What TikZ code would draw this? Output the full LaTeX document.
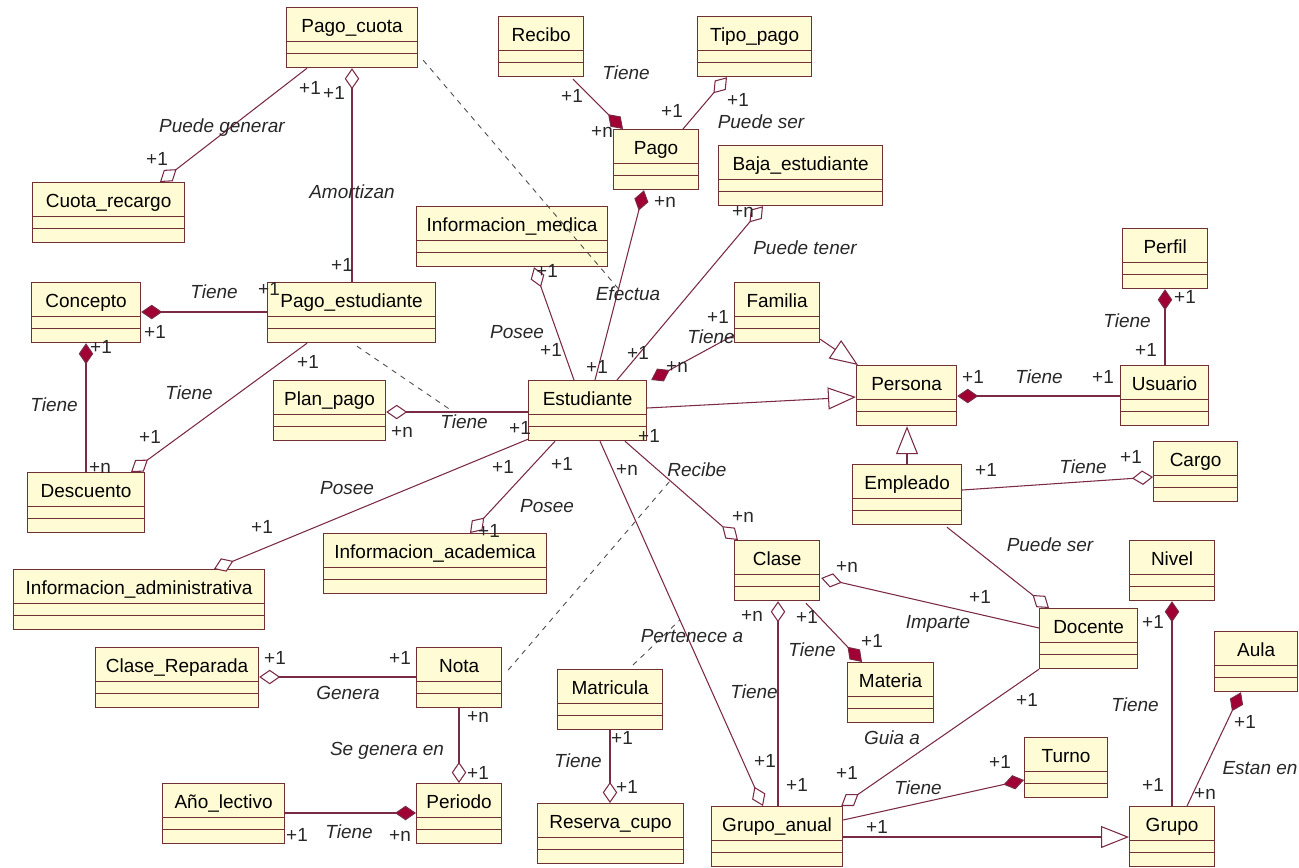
\documentclass[tikz,border=0pt]{standalone}
\usepackage{fontspec}
\setmainfont{Liberation Sans}
\usepackage{xcolor}
\usetikzlibrary{arrows.meta,calc}

\definecolor{clsfill}{RGB}{255,251,212}
\definecolor{clsline}{RGB}{112,48,52}
\definecolor{relline}{RGB}{122,42,68}
\definecolor{compfill}{RGB}{160,0,52}
\definecolor{lbltext}{RGB}{40,40,40}

\begin{document}
\begin{tikzpicture}[
    x=0.02cm, y=-0.02cm,
    every node/.style={font=\fontsize{10.8}{13}\selectfont},
    cls/.style={rectangle, draw=clsline, fill=clsfill, line width=0.7pt, anchor=north west,
      minimum height=1.2cm, inner sep=0pt, text height=0.35cm, text depth=0.55cm,
      path picture={
        \draw[clsline, line width=0.7pt]
          ($(path picture bounding box.north west)!0.567!(path picture bounding box.south west)$) --
          ($(path picture bounding box.north east)!0.567!(path picture bounding box.south east)$)
          ($(path picture bounding box.north west)!0.767!(path picture bounding box.south west)$) --
          ($(path picture bounding box.north east)!0.767!(path picture bounding box.south east)$);
      }},
    rel/.style={draw=relline, line width=0.6pt},
    comp/.style={rel, {Diamond[length=0.42cm, width=0.29cm, fill=compfill]}-},
    aggr/.style={rel, {Diamond[open, length=0.42cm, width=0.29cm, fill=white]}-},
    gen/.style={rel, -{Triangle[open, length=0.56cm, width=0.44cm, fill=white]}},
    assoclink/.style={draw=black!70, line width=0.5pt, dash pattern=on 3pt off 3pt},
    role/.style={font=\fontsize{10.8}{13}\selectfont\itshape, text=lbltext, inner sep=0pt, text height=1.5ex, text depth=0pt},
    mult/.style={text=lbltext, inner sep=0pt, text height=1.5ex, text depth=0pt}
]

\path[use as bounding box, fill=white] (0,0) rectangle (1299,867);

% Payment classes at the top
\node[cls, minimum width=2.62cm] (pagocuota) at (286,7) {Pago\_cuota};
\node[cls, minimum width=1.70cm] (recibo) at (498,16) {Recibo};
\node[cls, minimum width=2.28cm] (tipopago) at (697,16) {Tipo\_pago};
\node[cls, minimum width=1.70cm] (pago) at (613,129) {Pago};
\node[cls, minimum width=3.04cm] (cuotarecargo) at (32,182) {Cuota\_recargo};
\node[cls, minimum width=3.28cm] (bajaest) at (718,145) {Baja\_estudiante};
\node[cls, minimum width=3.82cm] (infomedica) at (416,206) {Informacion\_medica};
\node[cls, minimum width=1.70cm] (perfil) at (1122,228) {Perfil};

% Middle row: student and persons
\node[cls, minimum width=2.18cm] (concepto) at (31,282) {Concepto};
\node[cls, minimum width=3.36cm] (pagoest) at (267,282) {Pago\_estudiante};
\node[cls, minimum width=1.70cm] (familia) at (734,282) {Familia};
\node[cls, minimum width=2.00cm] (persona) at (856,365) {Persona};
\node[cls, minimum width=1.76cm] (usuario) at (1120,365) {Usuario};
\node[cls, minimum width=2.24cm] (planpago) at (273,380) {Plan\_pago};
\node[cls, minimum width=2.36cm] (estudiante) at (528,380) {Estudiante};
\node[cls, minimum width=1.68cm] (cargo) at (1153,441) {Cargo};
\node[cls, minimum width=2.18cm] (empleado) at (852,464) {Empleado};
\node[cls, minimum width=2.34cm] (descuento) at (27,472) {Descuento};
\node[cls, minimum width=4.46cm] (infoacad) at (323,533) {Informacion\_academica};

% Lower part: classes, groups, grades
\node[cls, minimum width=1.70cm] (clase) at (734,540) {Clase};
\node[cls, minimum width=1.70cm] (nivel) at (1129,540) {Nivel};
\node[cls, minimum width=5.02cm] (infoadmin) at (13,569) {Informacion\_administrativa};
\node[cls, minimum width=1.96cm] (docente) at (1039,608) {Docente};
\node[cls, minimum width=1.66cm] (aula) at (1214,631) {Aula};
\node[cls, minimum width=3.26cm] (claserep) at (95,647) {Clase\_Reparada};
\node[cls, minimum width=1.70cm] (nota) at (416,647) {Nota};
\node[cls, minimum width=1.72cm] (materia) at (847,662) {Materia};
\node[cls, minimum width=2.10cm] (matricula) at (557,669) {Matricula};
\node[cls, minimum width=1.66cm] (turno) at (1024,737) {Turno};
\node[cls, minimum width=2.44cm] (anolectivo) at (162,783) {Año\_lectivo};
\node[cls, minimum width=1.70cm] (periodo) at (416,783) {Periodo};
\node[cls, minimum width=2.92cm] (reservacupo) at (537,803) {Reserva\_cupo};
\node[cls, minimum width=2.62cm] (grupoanual) at (711,806) {Grupo\_anual};
\node[cls, minimum width=1.70cm] (grupo) at (1129,806) {Grupo};

% Associations around the payments
\draw[aggr] ($(cuotarecargo.north west)+(128,0)$) -- ($(pagocuota.south west)+(21,0)$);
\draw[aggr] ($(pagocuota.south west)+(66,0)$) -- ($(pagoest.north west)+(85,0)$);
\draw[comp] ($(pago.north west)+(10,0)$) -- ($(recibo.south west)+(75,2)$);
\draw[aggr] ($(tipopago.south west)+(30,0)$) -- ($(pago.north west)+(70,0)$);
\draw[comp] ($(pago.south west)+(31,0)$) -- coordinate[pos=0.52] (efectuapt) ($(estudiante.north west)+(67,0)$);
\draw[assoclink] ($(pagocuota.south east)+(5,-8)$) -- (efectuapt);
\draw[comp] ($(concepto.north east)+(0,30)$) -- ($(pagoest.north west)+(0,30)$);
\draw[comp] ($(concepto.south west)+(55,0)$) -- ($(descuento.north west)+(59,0)$);
\draw[aggr] ($(descuento.north west)+(104,0)$) -- ($(pagoest.south west)+(40,0)$);
\draw[aggr] ($(planpago.north east)+(0,32)$) -- coordinate[pos=0.476] (planpt) ($(estudiante.north west)+(0,32)$);
\draw[assoclink] ($(pagoest.south west)+(90,3)$) -- (planpt);

% Associations of the student
\draw[aggr] ($(infoadmin.north west)+(201,0)$) -- ($(estudiante.south west)+(0,-2)$);
\draw[aggr] ($(infoacad.north west)+(147,0)$) -- ($(estudiante.south west)+(27,0)$);
\draw[aggr] ($(infomedica.south west)+(118,0)$) -- ($(estudiante.north west)+(46,0)$);
\draw[aggr] ($(bajaest.south west)+(45,0)$) -- ($(estudiante.north west)+(89,0)$);
\draw[comp] ($(estudiante.north east)+(4,0)$) -- ($(familia.north west)+(0,53)$);
\draw[aggr] ($(clase.north west)+(4,0)$) -- coordinate[pos=0.6] (recibept) ($(estudiante.south west)+(97,0)$);
\draw[assoclink] ($(nota.north east)+(6,23)$) -- (recibept);
\draw[aggr] ($(grupoanual.north west)+(52,0)$) -- coordinate[pos=0.51] (pertpt) ($(estudiante.south west)+(72,0)$);
\draw[assoclink] ($(matricula.north west)+(76,-4)$) -- (pertpt);

% Generalizations
\draw[gen] ($(familia.south east)+(0,-4)$) -- ($(persona.north west)+(2,0)$);
\draw[gen] ($(estudiante.north east)+(0,28)$) -- ($(persona.north west)+(0,32)$);
\draw[gen] ($(empleado.north west)+(55,0)$) -- ($(persona.south west)+(51,0)$);
\draw[gen] ($(grupoanual.north east)+(0,31)$) -- ($(grupo.north west)+(0,31)$);

% Persons, staff and groups
\draw[comp] ($(persona.north east)+(0,31)$) -- ($(usuario.north west)+(0,31)$);
\draw[comp] ($(perfil.south west)+(43,0)$) -- ($(usuario.north west)+(45,0)$);
\draw[aggr] ($(cargo.north west)+(0,36)$) -- ($(empleado.north east)+(0,26)$);
\draw[aggr] ($(docente.north west)+(10,0)$) -- ($(empleado.south west)+(95,2)$);
\draw[aggr] ($(clase.north east)+(1,38)$) -- ($(docente.north west)+(0,20)$);
\draw[aggr] ($(clase.south west)+(44,0)$) -- ($(grupoanual.north west)+(67,0)$);
\draw[comp] ($(materia.north west)+(15,0)$) -- ($(clase.south west)+(72,2)$);
\draw[aggr] ($(grupoanual.north east)+(-2,0)$) -- (docente.south west);
\draw[comp] ($(turno.north west)+(0,43)$) -- ($(grupoanual.north east)+(0,14)$);
\draw[comp] ($(nivel.south west)+(43,0)$) -- ($(grupo.north west)+(43,0)$);
\draw[comp] ($(aula.south west)+(27,0)$) -- ($(grupo.north west)+(58,0)$);

% Grades and enrolment
\draw[aggr] ($(claserep.north east)+(0,30)$) -- ($(nota.north west)+(0,30)$);
\draw[aggr] ($(periodo.north west)+(43,0)$) -- ($(nota.south west)+(43,0)$);
\draw[comp] ($(periodo.north west)+(0,30)$) -- ($(anolectivo.north east)+(0,30)$);
\draw[aggr] ($(reservacupo.north west)+(73,0)$) -- ($(matricula.south west)+(53,0)$);

% Role names and multiplicities
\node[role] (generar) at (222,126) {Puede generar};
\node[mult] (generar1) at (310,88) {+1};
\node[mult] (generar2) at (157,159) {+1};
\node[role] (amortizan) at (352,192) {Amortizan};
\node[mult] (amortizan1) at (334,93) {+1};
\node[mult] (amortizan2) at (342,265) {+1};
\node[role] (recibotiene) at (626,73) {Tiene};
\node[mult] (recibotiene1) at (572,96) {+1};
\node[mult] (recibotiene2) at (602,131) {+n};
\node[role] (tipopuede) at (761,122) {Puede ser};
\node[mult] (tipopuede1) at (672,111) {+1};
\node[mult] (tipopuede2) at (738,100) {+1};
\node[role] (efectua) at (628,294) {Efectua};
\node[mult] (efectua1) at (665,201) {+n};
\node[mult] (efectua2) at (597,367) {+1};
\node[role] (conceptotiene) at (214,292) {Tiene};
\node[mult] (conceptotiene1) at (155,332) {+1};
\node[mult] (conceptotiene2) at (269,289) {+1};
\node[role] (descuentotiene) at (54,405) {Tiene};
\node[mult] (descuentotiene1) at (101,347) {+1};
\node[mult] (descuentotiene2) at (100,467) {+n};
\node[role] (pagoesttiene) at (189,393) {Tiene};
\node[mult] (pagoesttiene1) at (308,362) {+1};
\node[mult] (pagoesttiene2) at (150,437) {+1};
\node[role] (plantiene) at (464,422) {Tiene};
\node[mult] (plantiene1) at (402,431) {+n};
\node[mult] (plantiene2) at (520,428) {+1};
\node[role] (adminposee) at (347,488) {Posee};
\node[mult] (adminposee1) at (262,527) {+1};
\node[mult] (adminposee2) at (503,467) {+1};
\node[role] (acadposee) at (547,506) {Posee};
\node[mult] (acadposee1) at (562,464) {+1};
\node[mult] (acadposee2) at (489,531) {+1};
\node[role] (medposee) at (517,332) {Posee};
\node[mult] (medposee1) at (547,271) {+1};
\node[mult] (medposee2) at (551,350) {+1};
\node[role] (bajatener) at (805,248) {Puede tener};
\node[mult] (bajatener1) at (743,211) {+n};
\node[mult] (bajatener2) at (638,353) {+1};
\node[role] (familiatiene) at (711,337) {Tiene};
\node[mult] (familiatiene1) at (718,317) {+1};
\node[mult] (familiatiene2) at (677,366) {+n};
\node[role] (usuariotiene) at (1039,377) {Tiene};
\node[mult] (usuariotiene1) at (973,377) {+1};
\node[mult] (usuariotiene2) at (1103,377) {+1};
\node[role] (perfiltiene) at (1127,321) {Tiene};
\node[mult] (perfiltiene1) at (1185,297) {+1};
\node[mult] (perfiltiene2) at (1146,350) {+1};
\node[role] (cargotiene) at (1083,467) {Tiene};
\node[mult] (cargotiene1) at (986,470) {+1};
\node[mult] (cargotiene2) at (1131,457) {+1};
\node[role] (docenteser) at (1050,545) {Puede ser};
\node[role] (imparte) at (938,622) {Imparte};
\node[mult] (imparte1) at (847,566) {+n};
\node[mult] (imparte2) at (980,597) {+1};
\node[role] (recibe) at (697,470) {Recibe};
\node[mult] (recibe1) at (649,436) {+1};
\node[mult] (recibe2) at (743,516) {+n};
\node[role] (pertenece) at (692,636) {Pertenece a};
\node[mult] (pertenece1) at (627,469) {+n};
\node[mult] (pertenece2) at (765,761) {+1};
\node[role] (clasetiene) at (754,692) {Tiene};
\node[mult] (clasetiene1) at (752,615) {+n};
\node[mult] (clasetiene2) at (797,785) {+1};
\node[role] (materiatiene) at (812,650) {Tiene};
\node[mult] (materiatiene1) at (807,617) {+1};
\node[mult] (materiatiene2) at (872,641) {+1};
\node[role] (guia) at (892,738) {Guia a};
\node[mult] (guia1) at (1027,700) {+1};
\node[mult] (guia2) at (847,773) {+1};
\node[role] (turnotiene) at (918,788) {Tiene};
\node[mult] (turnotiene1) at (1000,762) {+1};
\node[mult] (grupogen1) at (877,827) {+1};
\node[role] (niveltiene) at (1135,705) {Tiene};
\node[mult] (niveltiene1) at (1153,622) {+1};
\node[mult] (niveltiene2) at (1153,785) {+1};
\node[role] (estanen) at (1260,768) {Estan en};
\node[mult] (estanen1) at (1245,722) {+1};
\node[mult] (estanen2) at (1205,793) {+n};
\node[role] (genera) at (348,693) {Genera};
\node[mult] (genera1) at (275,658) {+1};
\node[mult] (genera2) at (400,658) {+1};
\node[role] (segenera) at (387,749) {Se genera en};
\node[mult] (segenera1) at (478,716) {+n};
\node[mult] (segenera2) at (478,773) {+1};
\node[role] (anotiene) at (349,832) {Tiene};
\node[mult] (anotiene1) at (297,835) {+1};
\node[mult] (anotiene2) at (400,835) {+n};
\node[role] (matriculatiene) at (578,761) {Tiene};
\node[mult] (matriculatiene1) at (622,738) {+1};
\node[mult] (matriculatiene2) at (627,787) {+1};

\end{tikzpicture}
\end{document}
